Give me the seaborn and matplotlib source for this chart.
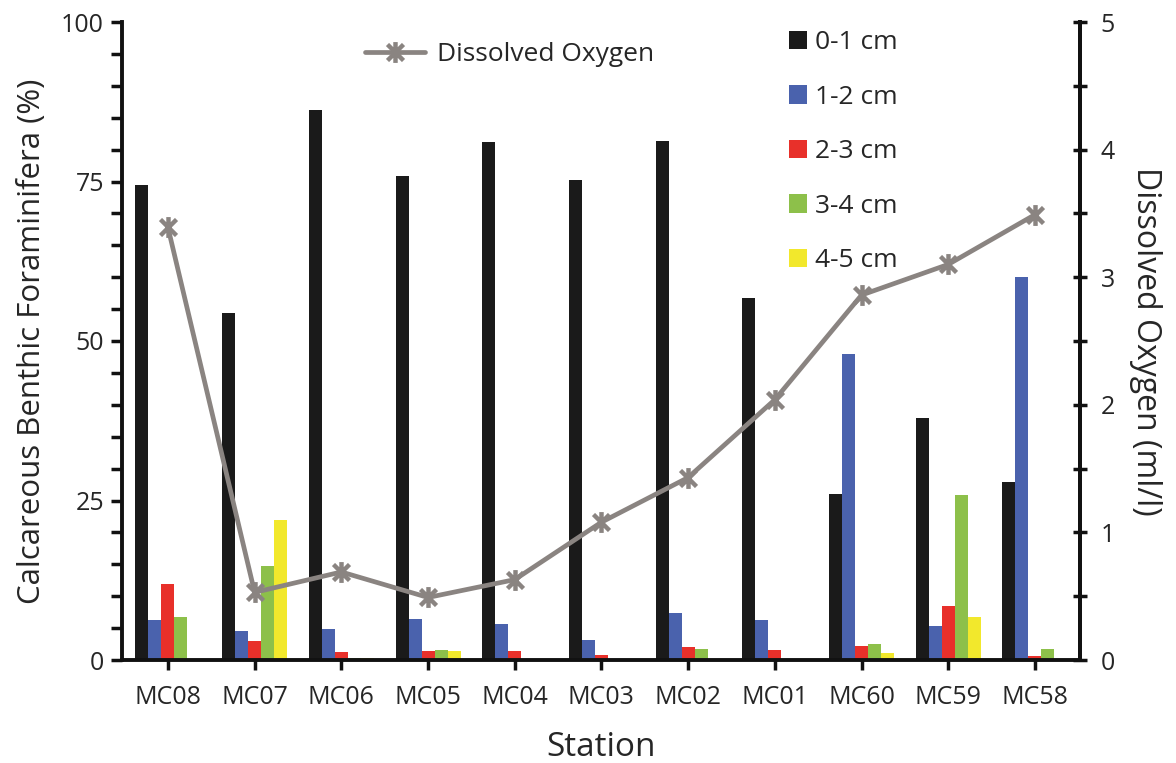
import numpy as np
import pandas as pd
import matplotlib
matplotlib.use("Agg")
import matplotlib.pyplot as plt
from matplotlib.path import Path
from matplotlib.patches import Patch
from matplotlib.lines import Line2D
from matplotlib.ticker import MultipleLocator
import seaborn as sns

stations = ["MC08", "MC07", "MC06", "MC05", "MC04", "MC03", "MC02", "MC01", "MC60", "MC59", "MC58"]
depths = ["0-1 cm", "1-2 cm", "2-3 cm", "3-4 cm", "4-5 cm"]
d01 = [74.5, 54.4, 86.2, 75.8, 81.2, 75.3, 81.4, 56.8, 26.0, 38.0, 27.9]
d12 = [6.2, 4.6, 4.8, 6.5, 5.6, 3.2, 7.4, 6.2, 47.9, 5.3, 60.1]
d23 = [11.9, 2.9, 1.3, 1.4, 1.4, 0.8, 2.0, 1.6, 2.2, 8.4, 0.6]
d34 = [6.7, 14.8, 0.3, 1.6, 0.1, 0.0, 1.8, 0.0, 2.5, 25.8, 1.7]
d45 = [0.0, 21.9, 0.3, 1.4, 0.0, 0.2, 0.0, 0.2, 1.1, 6.7, 0.0]
dissolved_oxygen = [3.39, 0.53, 0.69, 0.49, 0.63, 1.08, 1.43, 2.04, 2.86, 3.10, 3.49]

colors = ["#1a1a1a", "#4a62ad", "#e8302a", "#8dc04a", "#f2e82c"]
line_color = "#8a8481"

series = [d01, d12, d23, d34, d45]
df = pd.DataFrame({
    "Station": np.repeat([stations], len(depths), axis=0).ravel(),
    "Depth": np.repeat(depths, len(stations)),
    "Value": np.concatenate(series),
})

sns.set_style("white")
plt.rcParams["font.family"] = ["Open Sans", "DejaVu Sans"]

fig = plt.figure(figsize=(11.76, 7.63), dpi=100)
ax = fig.add_axes([122/1176, 1-660/763, (1080-122)/1176, (660-22)/763])

sns.barplot(data=df, x="Station", y="Value", hue="Depth", palette=colors,
            width=0.75, saturation=1, ax=ax, edgecolor="none", linewidth=0,
            legend=False, errorbar=None)

ax.set_xlim(-0.53, 10.52)
ax.set_ylim(0, 100)
ax.yaxis.set_major_locator(MultipleLocator(25))
ax.yaxis.set_minor_locator(MultipleLocator(5))
for s in ["left", "bottom", "right"]:
    ax.spines[s].set_linewidth(2.8)
    ax.spines[s].set_color("#111111")
ax.spines["top"].set_visible(False)
ax.tick_params(axis="y", which="both", direction="out", length=8, width=2.5,
               labelsize=18, pad=5, color="#111111", left=True)
ax.tick_params(axis="x", direction="out", length=7, width=2.5, labelsize=18,
               pad=11, color="#111111", bottom=True)
ax.set_xlabel("Station", fontsize=24, labelpad=15)
ax.set_ylabel("Calcareous Benthic Foraminifera (%)", fontsize=22.5, labelpad=10)

ax2 = ax.twinx()
star = Path([(-1, -1), (1, 1), (-1, 1), (1, -1), (0, -1.3), (0, 1.3)],
            [Path.MOVETO, Path.LINETO, Path.MOVETO, Path.LINETO, Path.MOVETO, Path.LINETO])
sns.lineplot(x=np.arange(len(stations)), y=dissolved_oxygen, ax=ax2, color=line_color,
             linewidth=3.4, marker=star, markersize=15, markeredgewidth=3.2,
             markeredgecolor=line_color, legend=False)
ax2.set_ylim(0, 5)
ax2.yaxis.set_major_locator(MultipleLocator(1))
ax2.yaxis.set_minor_locator(MultipleLocator(0.5))
ax2.spines["top"].set_visible(False)
ax2.spines["left"].set_visible(False)
ax2.spines["bottom"].set_visible(False)
ax2.spines["right"].set_linewidth(2.8)
ax2.spines["right"].set_color("#111111")
ax2.tick_params(axis="y", which="both", direction="inout", length=10, width=2.5,
                labelsize=18, pad=10, color="#111111", right=True)
ax2.set_ylabel("Dissolved Oxygen (ml/l)", fontsize=23, rotation=270, labelpad=34)
ax2.grid(False)
ax.grid(False)

bar_handles = [Patch(facecolor=c, edgecolor="none") for c in colors]
leg1 = fig.legend(bar_handles, depths, loc="upper left",
                  bbox_to_anchor=(789/1176, 1-30/763), frameon=False, fontsize=19,
                  handlelength=0.7, handleheight=0.7, handletextpad=0.3,
                  labelspacing=1.12, borderpad=0, borderaxespad=0)
line_handle = Line2D([], [], color=line_color, linewidth=3.4, marker=star,
                     markersize=15, markeredgewidth=3.2, markeredgecolor=line_color)
leg2 = fig.legend([line_handle], ["Dissolved Oxygen"], loc="upper left",
                  bbox_to_anchor=(365/1176, 1-42/763), frameon=False, fontsize=19,
                  handlelength=2.27, handletextpad=0.45, borderpad=0, borderaxespad=0)

fig.savefig("out.png", dpi=100)
